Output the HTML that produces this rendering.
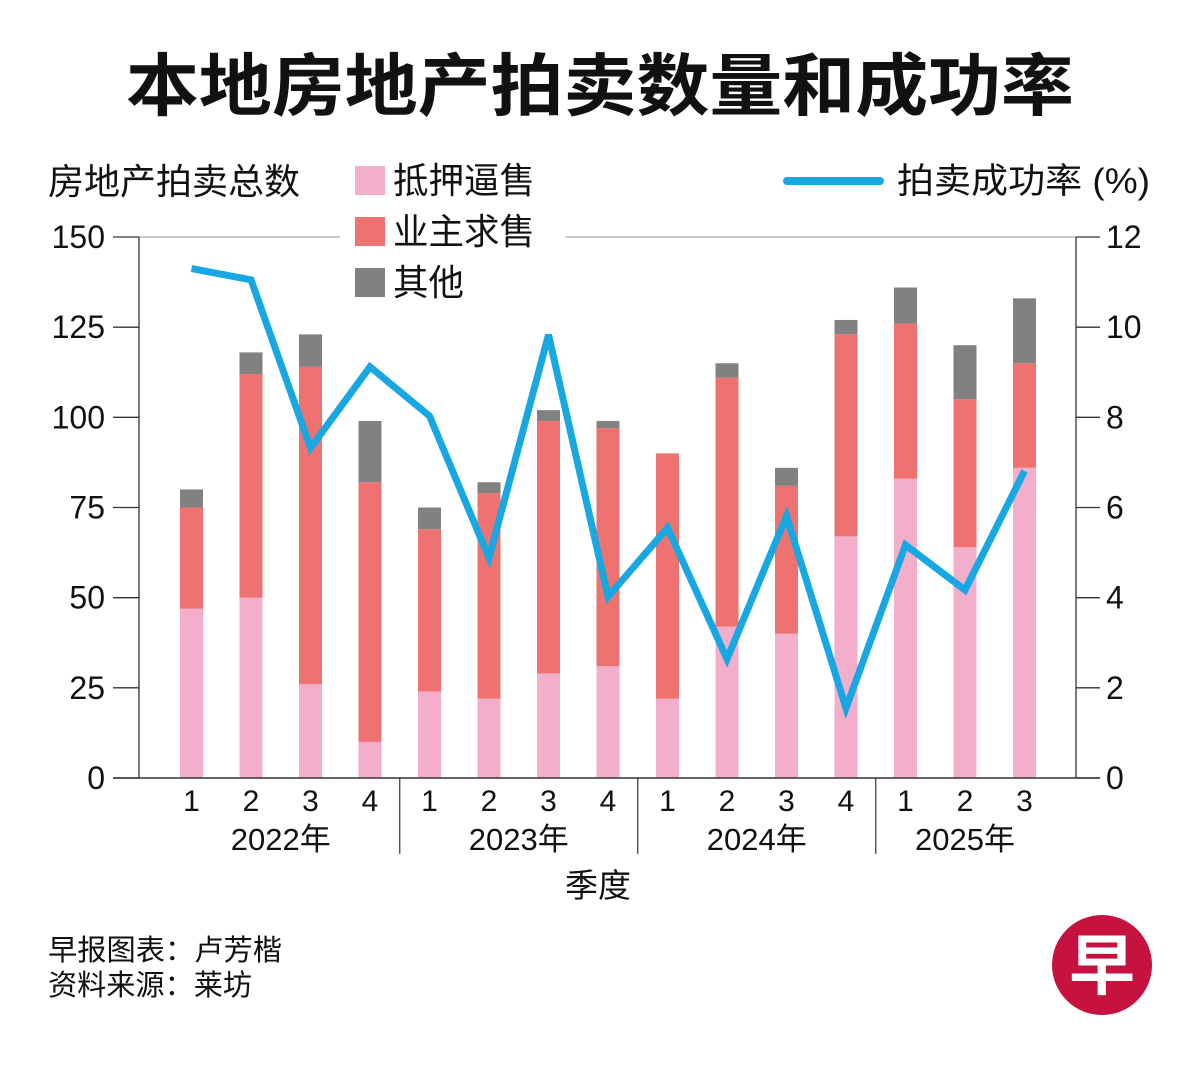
<!DOCTYPE html>
<html><head><meta charset="utf-8"><style>
body{margin:0;background:#fff;}
svg text{font-family:"Liberation Sans","Noto Sans CJK SC",sans-serif;fill:#111;}
</style></head><body>
<svg id="chart" width="1200" height="1064" xmlns="http://www.w3.org/2000/svg">
<text x="126" y="110" font-size="68" font-weight="bold" textLength="948" lengthAdjust="spacingAndGlyphs">本地房地产拍卖数量和成功率</text>
<text x="48" y="194" font-size="36" textLength="252" lengthAdjust="spacingAndGlyphs">房地产拍卖总数</text>
<line x1="139" y1="237" x2="1076" y2="237" stroke="#bbb" stroke-width="1.5"/>
<g id="bars"></g>
<g id="axes"></g>
<polyline id="rate-line" fill="none" stroke="#17a8e3" stroke-width="7" stroke-linejoin="miter"/>
<rect x="340" y="155" width="225" height="150" fill="#fff"/>
<rect x="355" y="166" width="30" height="29" fill="#f3aecb"/>
<text x="393" y="193" font-size="36" textLength="142" lengthAdjust="spacingAndGlyphs">抵押逼售</text>
<rect x="355" y="217" width="30" height="29" fill="#ee726f"/>
<text x="393" y="244" font-size="36" textLength="142" lengthAdjust="spacingAndGlyphs">业主求售</text>
<rect x="355" y="268" width="30" height="29" fill="#818181"/>
<text x="393" y="295" font-size="36" textLength="71" lengthAdjust="spacingAndGlyphs">其他</text>
<rect x="775" y="160" width="400" height="50" fill="#fff"/>
<line x1="787" y1="181" x2="880" y2="181" stroke="#17a8e3" stroke-width="8" stroke-linecap="round"/>
<text x="897" y="193" font-size="35" textLength="253" lengthAdjust="spacingAndGlyphs">拍卖成功率 (%)</text>
<text x="598" y="897" text-anchor="middle" font-size="33">季度</text>
<text x="48" y="960" font-size="29" textLength="234" lengthAdjust="spacingAndGlyphs">早报图表：卢芳楷</text>
<text x="48" y="995" font-size="29" textLength="204" lengthAdjust="spacingAndGlyphs">资料来源：莱坊</text>
<g>
<circle cx="1102" cy="965" r="50" fill="#c5123e"/>
<text x="1102" y="989" text-anchor="middle" font-size="66" font-weight="bold" style="fill:#fff">早</text>
</g>
</svg>
<script>
const quarters=["1","2","3","4","1","2","3","4","1","2","3","4","1","2","3"];
const years=["2022年","2023年","2024年","2025年"];
const foreclosure=[47,50,26,10,24,22,29,31,22,42,40,67,83,64,86];
const ownerSale=[28,62,88,72,45,57,70,66,68,69,41,56,43,41,29];
const other=[5,6,9,17,6,3,3,2,0,4,5,4,10,15,18];
const successRate=[11.3,11.05,7.32,9.12,8.03,4.88,9.83,4.02,5.55,2.64,5.81,1.55,5.17,4.17,6.81];
const leftTicks=[0,25,50,75,100,125,150];
const rightTicks=[0,2,4,6,8,10,12];
const NS="http://www.w3.org/2000/svg";
const yL=v=>778-v*(541/150), yR=v=>778-v*(541/12), xC=i=>191.5+i*59.5;
function mk(t,a,p){const e=document.createElementNS(NS,t);for(const k in a)e.setAttribute(k,a[k]);p.appendChild(e);return e;}
const bars=document.getElementById('bars'), axes=document.getElementById('axes');
const series=[[foreclosure,'#f3aecb','foreclosure'],[ownerSale,'#ee726f','owner-sale'],[other,'#818181','other']];
quarters.forEach((q,i)=>{let base=0;series.forEach(([arr,c,n])=>{const v=arr[i];if(v>0){const r=mk('rect',{x:xC(i)-11.5,y:yL(base+v),width:23,height:yL(base)-yL(base+v),fill:c},bars);

}base+=v;});
const t=mk('text',{x:xC(i),y:811,'text-anchor':'middle','font-size':30},axes);t.textContent=q;

});
years.forEach((y,g)=>{const n=g<3?4:3;const c=(xC(g*4)+xC(g*4+n-1))/2;const t=mk('text',{x:c,y:850,'text-anchor':'middle','font-size':31},axes);t.textContent=y;


if(g<3){const s=mk('line',{x1:xC(g*4+3)+29.75,x2:xC(g*4+3)+29.75,y1:778,y2:854,stroke:'#333','stroke-width':1.2},axes);

}});
mk('line',{x1:139,y1:237,x2:139,y2:778,stroke:'#333','stroke-width':1.3},axes);
mk('line',{x1:1076,y1:237,x2:1076,y2:778,stroke:'#333','stroke-width':1.3},axes);
mk('line',{x1:113,y1:778,x2:1100,y2:778,stroke:'#333','stroke-width':1.6},axes);
leftTicks.forEach(v=>{mk('line',{x1:113,x2:139,y1:yL(v),y2:yL(v),stroke:'#333','stroke-width':1.3},axes);
const t=mk('text',{x:105,y:yL(v)+11,'text-anchor':'end','font-size':32},axes);t.textContent=v;

});
rightTicks.forEach(v=>{mk('line',{x1:1076,x2:1100,y1:yR(v),y2:yR(v),stroke:'#333','stroke-width':1.3},axes);
const t=mk('text',{x:1106,y:yR(v)+11,'font-size':32},axes);t.textContent=v;

});
document.getElementById('rate-line').setAttribute('points',successRate.map((v,i)=>xC(i)+','+yR(v)).join(' '));
</script>
</body></html>
